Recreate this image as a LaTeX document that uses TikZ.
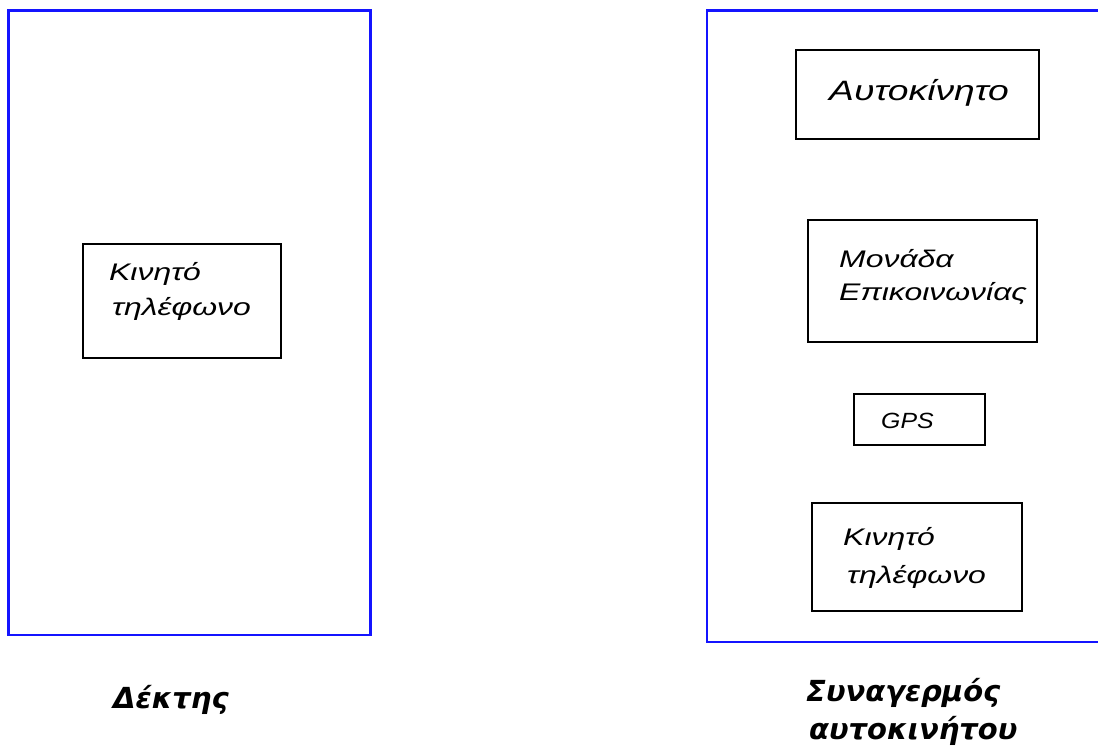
\documentclass[tikz,border=0pt]{standalone}
\usepackage{fontspec}
\setmainfont{Liberation Sans}
\newfontfamily\boxfont[FakeStretch=1.33]{Liberation Sans}
\newfontfamily\gpsfont[FakeStretch=1.13]{Liberation Sans}
\newfontfamily\lblfont{DejaVu Sans}
\begin{document}
\begin{tikzpicture}[x=1pt,y=-1pt,
  outerbox/.style={draw={rgb,255:red,20;green,20;blue,255},line width=2.3pt},
  innerbox/.style={draw=black,line width=1.3pt},
  boxtext/.style={font=\boxfont\fontsize{24}{28}\selectfont\itshape,inner sep=0pt,anchor=base west},
  bigtext/.style={font=\boxfont\fontsize{28}{32}\selectfont\itshape,inner sep=0pt,anchor=base west},
  gpstext/.style={font=\gpsfont\fontsize{22}{26}\selectfont\itshape,inner sep=0pt,anchor=base west},
  lbltext/.style={font=\lblfont\fontsize{29}{32}\selectfont\bfseries\itshape,inner sep=0pt,anchor=base west}]
\useasboundingbox (0,0) rectangle (1098,749);
\fill[white] (0,0) rectangle (1098,749);
% outer frames
\draw[outerbox] (8.5,10.5) rectangle (370.5,635);
\draw[outerbox] (1110,10.5) -- (707,10.5) -- (707,642) -- (1110,642);
% left inner box
\draw[innerbox] (83,244) rectangle (281,358);
\node[boxtext] (k1a) at (109,280) {Κινητό};
\node[boxtext] (k1b) at (112,315) {τηλέφωνο};
% right inner boxes
\draw[innerbox] (796,50) rectangle (1039,139);
\node[bigtext] (auto) at (829,101) {Αυτοκίνητο};
\draw[innerbox] (808,220) rectangle (1037,342);
\node[boxtext] (mona) at (839,267) {Μονάδα};
\node[boxtext] (monb) at (839,300) {Επικοινωνίας};
\draw[innerbox] (854,394) rectangle (985,445);
\node[gpstext] (gps) at (881,428) {GPS};
\draw[innerbox] (812,503) rectangle (1022,611);
\node[boxtext] (k2a) at (843,545) {Κινητό};
\node[boxtext] (k2b) at (847,583) {τηλέφωνο};
% labels
\node[lbltext] (dektis) at (113,708) {Δέκτης};
\node[lbltext] (syna) at (806,701) {Συναγερμός};
\node[lbltext] (synb) at (809,739) {αυτοκινήτου};
\end{tikzpicture}
\end{document}
